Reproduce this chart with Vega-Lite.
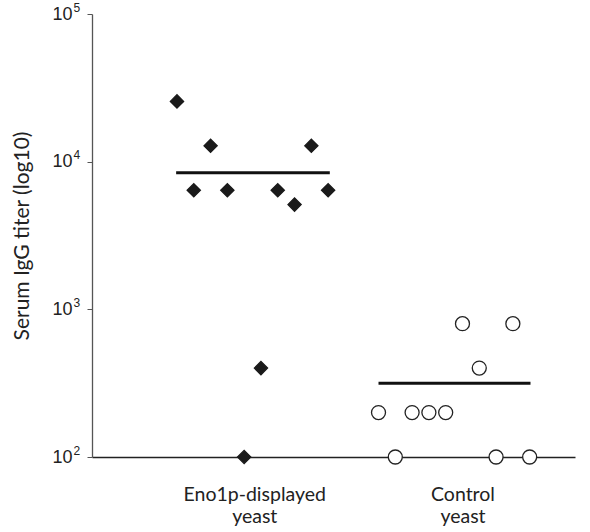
{
  "$schema": "https://vega.github.io/schema/vega-lite/v6.json",
  "width": 483,
  "height": 443,
  "autosize": "none",
  "padding": {"left": 92, "top": 14, "right": 15, "bottom": 75},
  "background": "white",
  "config": {"view": {"stroke": null}, "font": "Lato"},
  "datasets": {
    "pts": [
      {"group": "Eno1p-displayed yeast", "pos": 1, "titer": 25600},
      {"group": "Eno1p-displayed yeast", "pos": 2, "titer": 6400},
      {"group": "Eno1p-displayed yeast", "pos": 3, "titer": 12800},
      {"group": "Eno1p-displayed yeast", "pos": 4, "titer": 6400},
      {"group": "Eno1p-displayed yeast", "pos": 5, "titer": 100},
      {"group": "Eno1p-displayed yeast", "pos": 6, "titer": 400},
      {"group": "Eno1p-displayed yeast", "pos": 7, "titer": 6400},
      {"group": "Eno1p-displayed yeast", "pos": 8, "titer": 5120},
      {"group": "Eno1p-displayed yeast", "pos": 9, "titer": 12800},
      {"group": "Eno1p-displayed yeast", "pos": 10, "titer": 6400},
      {"group": "Control yeast", "pos": 13, "titer": 200},
      {"group": "Control yeast", "pos": 14, "titer": 100},
      {"group": "Control yeast", "pos": 15, "titer": 200},
      {"group": "Control yeast", "pos": 16, "titer": 200},
      {"group": "Control yeast", "pos": 17, "titer": 200},
      {"group": "Control yeast", "pos": 18, "titer": 800},
      {"group": "Control yeast", "pos": 19, "titer": 400},
      {"group": "Control yeast", "pos": 20, "titer": 100},
      {"group": "Control yeast", "pos": 21, "titer": 800},
      {"group": "Control yeast", "pos": 22, "titer": 100}
    ],
    "means": [
      {"group": "Eno1p-displayed yeast", "start": 0.95, "end": 10.1, "mean": 8400},
      {"group": "Control yeast", "start": 13, "end": 22.05, "mean": 316}
    ]
  },
  "resolve": {"scale": {"y": "independent"}},
  "layer": [
    {
      "data": {"name": "means"},
      "mark": {"type": "rule", "strokeWidth": 3, "color": "#111111"},
      "encoding": {
        "x": {"field": "start", "type": "quantitative",
          "scale": {"domain": [-4.06, 24.7], "nice": false, "zero": false},
          "axis": {
            "values": [5.6, 18],
            "labelExpr": "datum.value < 10 ? ['Eno1p-displayed', 'yeast'] : ['Control', 'yeast']",
            "ticks": false, "grid": false, "title": null,
            "domainColor": "#222222", "domainWidth": 1.3,
            "labelFontSize": 19.5, "labelColor": "#222222", "labelPadding": 28,
            "labelFont": "Lato", "labelLineHeight": 22
          }},
        "x2": {"field": "end"},
        "y": {"field": "mean", "type": "quantitative",
          "scale": {"type": "log", "domain": [100, 100000], "nice": false},
          "axis": {
            "orient": "left",
            "values": [100, 1000, 10000, 100000],
            "labelExpr": "datum.value == 100 ? '2' : datum.value == 1000 ? '3' : datum.value == 10000 ? '4' : '5'",
            "ticks": false, "domain": false, "grid": false, "title": null,
            "labelAlign": "left", "labelBaseline": "middle",
            "labelFontSize": 12, "labelFont": "Liberation Sans", "labelColor": "#222222",
            "labelPadding": 19, "labelOffset": -7
          }}
      }
    },
    {
      "data": {"name": "pts"},
      "mark": {"type": "point", "filled": false, "clip": false, "strokeWidth": 1.3, "opacity": 1},
      "encoding": {
        "x": {"field": "pos", "type": "quantitative"},
        "y": {"field": "titer", "type": "quantitative",
          "scale": {"type": "log", "domain": [100, 100000], "nice": false},
          "axis": {
            "orient": "left",
            "values": [100, 1000, 10000, 100000],
            "labelExpr": "'10'",
            "grid": false, "tickSize": 5, "tickColor": "#555555",
            "domainColor": "#555555", "domainWidth": 1.3,
            "labelFontSize": 18, "labelFont": "Liberation Sans", "labelColor": "#222222", "labelPadding": 15,
            "labelBaseline": "middle",
            "title": "Serum IgG titer (log10)", "titleFontSize": 21, "titleFont": "Lato",
            "titleFontWeight": "normal", "titleColor": "#222222", "titlePadding": 19
          }},
        "shape": {"field": "group", "type": "nominal",
          "scale": {"domain": ["Eno1p-displayed yeast", "Control yeast"], "range": ["diamond", "circle"]},
          "legend": null},
        "fill": {"field": "group", "type": "nominal",
          "scale": {"domain": ["Eno1p-displayed yeast", "Control yeast"], "range": ["#1a1a1a", "#ffffff"]},
          "legend": null},
        "stroke": {"field": "group", "type": "nominal",
          "scale": {"domain": ["Eno1p-displayed yeast", "Control yeast"], "range": ["#1a1a1a", "#222222"]},
          "legend": null},
        "size": {"field": "group", "type": "nominal",
          "scale": {"domain": ["Eno1p-displayed yeast", "Control yeast"], "range": [175, 196]},
          "legend": null}
      }
    }
  ]
}
